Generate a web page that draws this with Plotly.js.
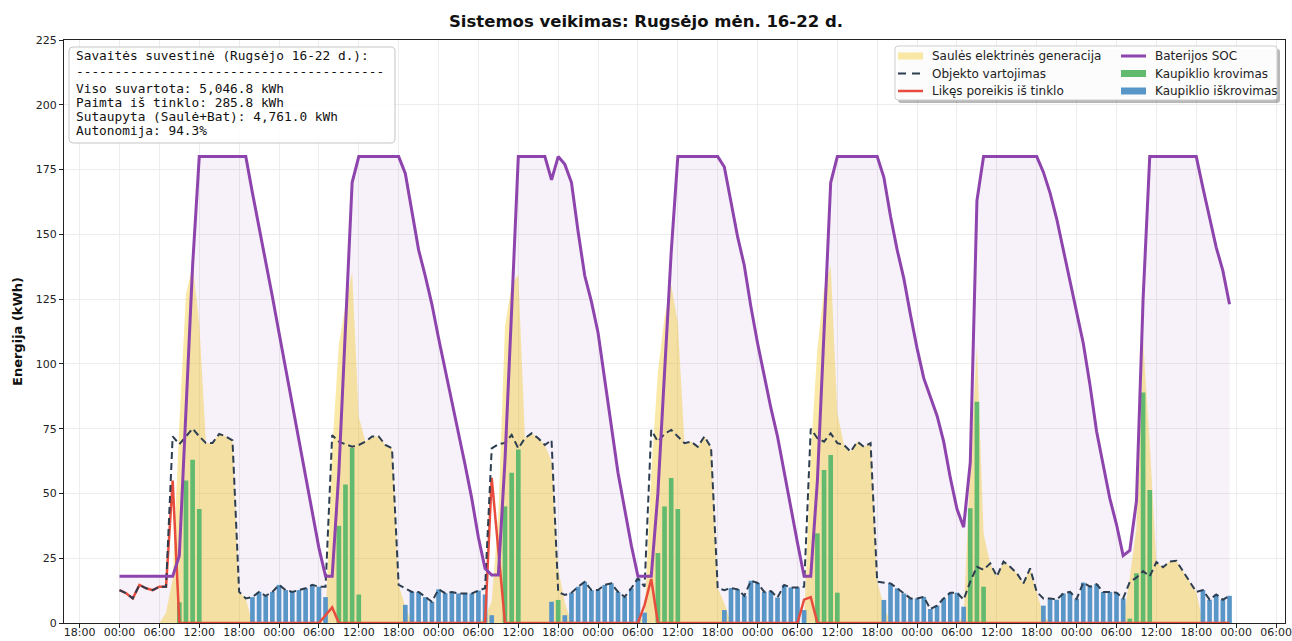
<!DOCTYPE html>
<html>
<head>
<meta charset="utf-8">
<script src="https://cdn.plot.ly/plotly-3.0.1.min.js"></script>
<style>html,body{margin:0;padding:0;background:#fff}#chart{width:1292px;height:641px}</style>
</head>
<body>
<div id="chart"></div>
<script>
// ---------- DATA (hourly, 16-22 September, 24 values per day) ----------
const startDay = [2025, 8, 16]; // 16 September (month index 8)

const solar = [
0,0,0,0,0,0,0,4,17,77,127,138,116,69.5,69.5,73,72,70.5,12,9.5,0,0,0,0,
0,0,0,0,0,0,0,1,66.5,107.5,122.5,135.5,79.5,70,72,72,68.7,67.4,14.7,6.4,0,0,0,0,
0,0,0,0,0,0,0,2.4,8.4,42,114.5,130.6,134.4,71.3,73.2,71.3,68.7,62.4,20.9,7.8,0,0,0,0,
0,0,0,0,0,0,0,3,57.5,97,118,130.5,116,69.4,70,68,72,67.7,13.4,7.7,0,0,0,0,
0,0,0,0,0,0,0,0,65,106,129,138,81,68.7,66.1,70,68,69.4,15.9,6.6,0,0,0,0,
0,0,0,0,0,0,0,2.7,60.3,107,34.5,23,18,23.7,21.7,19.2,15.3,21.1,12,2.8,0,0,0,0,
0,0,0,0,0,0,0,0,17.6,36.7,109,69.3,23.5,21.5,23.7,24,20,16,12,0,0,0,0,0
];

const consumption = [
12.7,11.5,9.5,14.7,13.4,12.7,14,14,72,69,72,75,72,69.5,69.5,73,72,70.5,12,9.5,10,12,10.5,12,
14.7,12.7,12,12.7,13.4,14.7,14,14,72.5,70,69,68,68.7,70,72,72,68.7,67.4,14.7,13.4,12,12,10,8.2,
13,11.5,12,11.4,11.4,11.4,12.5,13.4,67.4,69,69.5,72.6,67.4,71.3,73.2,71.3,68.7,70.6,12,10.8,11.7,14,15.9,12.7,
12.7,14.7,15.3,12,10.1,13.4,17.2,14,74.5,70,73,74.5,72,69.4,70,68,72,67.7,13.4,12.7,13.5,13,10.5,16.3,
15.5,12,12.3,9.8,14.7,13.7,13.7,14,75,71.3,70,73.2,69.4,68.7,66.1,70,68,69.4,15.9,15.5,15.3,13.4,11.4,9.5,
9.5,10.1,5.4,6.7,9.5,11.7,11.7,9,16,21.7,20.5,23,18,23.7,21.7,19.2,15.3,21.1,12,9.5,9.5,9,11.4,12,
9.3,15.6,14,15,12,12,11.7,9.5,15.9,17.5,20,18,23.5,21.5,23.7,24,20,16,12,12.7,9,11,9,10.5
];

const gridNeed = [
12.7,11.5,9.5,14.7,13.4,12.7,14,14,55,0,0,0,0,0,0,0,0,0,0,0,0,0,0,0,
0,0,0,0,0,0,0,3,6,0,0,0,0,0,0,0,0,0,0,0,0,0,0,0,
0,0,0,0,0,0,0,0,56,27,0,0,0,0,0,0,0,0,0,0,0,0,0,0,
0,0,0,0,0,0,0,7,17,0,0,0,0,0,0,0,0,0,0,0,0,0,0,0,
0,0,0,0,0,0,0,9,10,0,0,0,0,0,0,0,0,0,0,0,0,0,0,0,
0,0,0,0,0,0,0,0,0,0,0,0,0,0,0,0,0,0,0,0,0,0,0,0,
0,0,0,0,0,0,0,0,0,0,0,0,0,0,0,0,0,0,0,0,0,0,0,0
];

const batterySoc = [
18,18,18,18,18,18,18,18,18,26,80,138,180,180,180,180,180,180,180,180,166,153,140,126,
112,98,84,70,56,42,29,18,18,58,112,170,180,180,180,180,180,180,180,173.5,159,144,134,123,
110,98,86,74,61,48,33,21,18.5,18.5,63,121,180,180,180,180,180,171,180,177,170,151,134,124,
112,94,76,58,44,30,18,18,18,50,95,143,180,180,180,180,180,180,180,176,162,149,138,122,
108,95,83,72,58,44,31,18,18,55,113,170,180,180,180,180,180,180,180,172,157,144,133,119,
106,94.5,87.5,80,70,56,44,37,62,163,180,180,180,180,180,180,180,180,180,174,166,156,144,132,
121,108,92,74,61,48,38,26,28,47,125,180,180,180,180,180,180,180,180,168,157,145,136,123
];

const charge = [
0,0,0,0,0,0,0,0,0,8,55,63,44,0,0,0,0,0,0,0,0,0,0,0,
0,0,0,0,0,0,0,0,0,37.5,53.5,67.5,11,0,0,0,0,0,0,0,0,0,0,0,
0,0,0,0,0,0,0,0,0,0,45,58,67,0,0,0,0,0,8.9,0,0,0,0,0,
0,0,0,0,0,0,0,0,0,27,45,56,44,0,0,0,0,0,0,0,0,0,0,0,
0,0,0,0,0,0,0,0,0,34.6,59,64.8,11.7,0,0,0,0,0,0,0,0,0,0,0,
0,0,0,0,0,0,0,0,44.3,85.4,14,0,0,0,0,0,0,0,0,0,0,0,0,0,
0,0,0,0,0,0,0,0,1.7,19.2,89,51.3,0,0,0,0,0,0,0,0,0,0,0,0
];

const discharge = [
0,0,0,0,0,0,0,0,0,0,0,0,0,0,0,0,0,0,0,0,10,12,10.5,12,
14.7,12.7,12,12.7,13.4,14.7,14,10,0,0,0,0,0,0,0,0,0,0,0,7,12,12,10,8.2,
13,11.5,12,11.4,11.4,11.4,12.5,11,3,0,0,0,0,0,0,0,0,8.2,0,3,11.7,14,15.9,12.7,
12.7,14.7,15.3,12,10.1,13.4,17.2,4,0,0,0,0,0,0,0,0,0,0,0,5,13.5,13,10.5,16.3,
15.5,12,12.3,9.8,14.7,13.7,13.7,5,0,0,0,0,0,0,0,0,0,0,0,8.9,15.3,13.4,11.4,9.5,
9.5,10.1,5.4,6.7,9.5,11.7,11.7,6.3,0,0,0,0,0,0,0,0,0,0,0,6.7,9.5,9,11.4,12,
9.3,15.6,14,15,12,12,11.7,9.5,0,0,0,0,0,0,0,0,0,0,0,12.7,9,11,9,10.5
];

const seriesNames = ['Saulės elektrinės generacija','Objekto vartojimas','Likęs poreikis iš tinklo',
                     'Baterijos SOC','Kaupiklio krovimas','Kaupiklio iškrovimas'];

const summaryLines = [
  'Savaitės suvestinė (Rugsėjo 16-22 d.):',
  '----------------------------------------',
  'Viso suvartota: 5,046.8 kWh',
  'Paimta iš tinklo: 285.8 kWh',
  'Sutaupyta (Saulė+Bat): 4,761.0 kWh',
  'Autonomija: 94.3%'
];

const chartTitle = 'Sistemos veikimas: Rugsėjo mėn. 16-22 d.';
const yTitle = 'Energija (kWh)';

// ---------- TIME AXIS ----------
function stamp(ms){ return new Date(ms).toISOString().slice(0,19).replace('T',' '); }
const t0 = Date.UTC(startDay[0], startDay[1], startDay[2], 0, 0, 0);
const times = solar.map((_, i) => stamp(t0 + i * 3600000));
const xRange = [stamp(t0 - 8.35 * 3600000), stamp(t0 + 175.35 * 3600000)];

// ---------- STYLE ----------
const C = {
  solarFill: 'rgba(241,196,15,0.37)',
  socFill: 'rgba(142,68,173,0.075)',
  soc: '#8e44ad',
  cons: '#2c3e50',
  grid: '#e74c3c',
  charge: 'rgb(98,186,110)',
  discharge: 'rgb(88,150,200)'
};
const W = 1292, H = 641, PL = 64, PR = 1285, PT = 40, PB = 623;
const px = x => (x - PL) / (PR - PL);
const py = y => 1 - (y - PT) / (PB - PT);
const barW = 0.7 * 3600000;

const traces = [
  {x: times, y: batterySoc, type: 'scatter', mode: 'lines', fill: 'tozeroy',
   fillcolor: C.socFill, line: {width: 0, color: 'rgba(0,0,0,0)'}, hoverinfo: 'skip', showlegend: false},
  {x: times, y: solar, type: 'scatter', mode: 'lines', fill: 'tozeroy', name: seriesNames[0],
   fillcolor: C.solarFill, line: {width: 0, color: 'rgba(0,0,0,0)'}},
  {x: times, y: charge, type: 'bar', name: seriesNames[4], width: barW,
   marker: {color: C.charge, line: {width: 0}}, xaxis: 'x2', yaxis: 'y2'},
  {x: times, y: discharge, type: 'bar', name: seriesNames[5], width: barW,
   marker: {color: C.discharge, line: {width: 0}}, xaxis: 'x2', yaxis: 'y2'},
  {x: times, y: gridNeed, type: 'scatter', mode: 'lines', name: seriesNames[2],
   line: {color: C.grid, width: 2.5}, xaxis: 'x2', yaxis: 'y2'},
  {x: times, y: consumption, type: 'scatter', mode: 'lines', name: seriesNames[1],
   line: {color: C.cons, width: 2, dash: '7px,4px'}, xaxis: 'x2', yaxis: 'y2'},
  {x: times, y: batterySoc, type: 'scatter', mode: 'lines', name: seriesNames[3],
   line: {color: C.soc, width: 3}, xaxis: 'x2', yaxis: 'y2'}
];

// rounded rectangle path in pixel coordinates -> paper
function rr(x0, y0, x1, y1, r){
  const P = (x, y) => px(x).toFixed(5) + ',' + py(y).toFixed(5);
  return 'M' + P(x0 + r, y0) + ' L' + P(x1 - r, y0) + ' Q' + P(x1, y0) + ' ' + P(x1, y0 + r) +
         ' L' + P(x1, y1 - r) + ' Q' + P(x1, y1) + ' ' + P(x1 - r, y1) +
         ' L' + P(x0 + r, y1) + ' Q' + P(x0, y1) + ' ' + P(x0, y1 - r) +
         ' L' + P(x0, y0 + r) + ' Q' + P(x0, y0) + ' ' + P(x0 + r, y0) + ' Z';
}

const shapes = [];
const annotations = [];

// summary box
shapes.push({type: 'path', xref: 'paper', yref: 'paper', path: rr(69, 47, 395, 143, 4),
  fillcolor: 'rgba(255,255,255,0.85)', line: {color: 'rgba(190,190,190,0.9)', width: 1}});
const sumY = [55.5, 71, 88.3, 102.2, 116, 130];
summaryLines.forEach((t, i) => annotations.push({
  xref: 'paper', yref: 'paper', x: px(74), y: py(sumY[i]), xanchor: 'left', yanchor: 'middle',
  showarrow: false, text: t, font: {family: 'DejaVu Sans Mono', size: 12.8, color: '#111'}
}));

// legend box with shadow
shapes.push({type: 'path', xref: 'paper', yref: 'paper', path: rr(898, 49, 1280, 103, 3),
  fillcolor: 'rgba(0,0,0,0.28)', line: {width: 0}});
shapes.push({type: 'path', xref: 'paper', yref: 'paper', path: rr(895, 46, 1277, 100, 3),
  fillcolor: 'rgba(255,255,255,0.95)', line: {color: 'rgb(205,205,205)', width: 1}});

const rows = [56, 73.5, 91];
const col1 = [898, 923, 930], col2 = [1121, 1146, 1153];
function patch(c, y, color){
  shapes.push({type: 'rect', xref: 'paper', yref: 'paper', x0: px(c[0]), x1: px(c[1]),
    y0: py(y - 3.5), y1: py(y + 3.5), fillcolor: color, line: {width: 0}});
}
function lineH(c, y, color, w, dash){
  shapes.push({type: 'line', xref: 'paper', yref: 'paper', x0: px(c[0]), x1: px(c[1]),
    y0: py(y), y1: py(y), line: {color: color, width: w, dash: dash || 'solid'}});
}
patch(col1, rows[0], C.solarFill);
lineH(col1, rows[1], C.cons, 2, '8px,6px');
lineH(col1, rows[2], C.grid, 2.5);
lineH(col2, rows[0], C.soc, 3);
patch(col2, rows[1], C.charge);
patch(col2, rows[2], C.discharge);
const legendOrder = [[col1, 0, 0], [col1, 1, 1], [col1, 2, 2], [col2, 0, 3], [col2, 1, 4], [col2, 2, 5]];
legendOrder.forEach(([c, r, n]) => annotations.push({
  xref: 'paper', yref: 'paper', x: px(c[2]), y: py(rows[r]), xanchor: 'left', yanchor: 'middle',
  showarrow: false, text: seriesNames[n], font: {family: 'DejaVu Sans', size: 12, color: '#222'}
}));

const layout = {
  width: W, height: H,
  margin: {l: PL, r: W - PR, t: PT, b: H - PB, pad: 0},
  paper_bgcolor: '#fff', plot_bgcolor: '#fff',
  font: {family: 'DejaVu Sans', size: 11, color: '#222'},
  showlegend: false,
  barmode: 'overlay',
  title: {text: '<b>' + chartTitle + '</b>', font: {family: 'DejaVu Sans', size: 16.5, color: '#111'},
          x: 0.5, xref: 'container', xanchor: 'center', y: 1 - 21 / H, yref: 'container', yanchor: 'middle'},
  xaxis: {type: 'date', range: xRange, tick0: '2025-09-15 18:00:00', dtick: 6 * 3600000,
          tickformat: '%H:%M', ticks: 'outside', ticklen: 4, tickwidth: 1, tickcolor: '#222',
          ticklabelstandoff: -5,
          showgrid: true, gridcolor: '#e9e9e9', gridwidth: 0.8, zeroline: false,
          showline: true, mirror: true, linecolor: '#222', linewidth: 1,
          tickfont: {size: 11, color: '#222'}},
  yaxis: {range: [0, 225], tick0: 0, dtick: 25, ticks: 'outside', ticklen: 4, tickwidth: 1, tickcolor: '#222',
          showgrid: true, gridcolor: '#e9e9e9', gridwidth: 0.8, zeroline: false,
          showline: true, mirror: true, linecolor: '#222', linewidth: 1,
          tickfont: {size: 11, color: '#222'},
          title: {text: '<b>' + yTitle + '</b>', font: {size: 13, color: '#111'}, standoff: 10}},
  xaxis2: {type: 'date', overlaying: 'x', anchor: 'y2', range: xRange, visible: false},
  yaxis2: {overlaying: 'y', anchor: 'x2', range: [0, 225], visible: false},
  shapes: shapes,
  annotations: annotations
};

Plotly.newPlot('chart', traces, layout, {staticPlot: true, displayModeBar: false});
</script>
</body>
</html>
